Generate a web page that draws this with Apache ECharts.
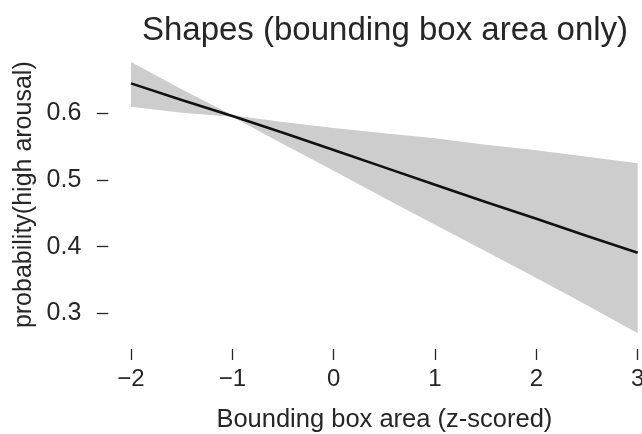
<!DOCTYPE html>
<html>
<head>
<meta charset="utf-8">
<script src="https://cdn.jsdelivr.net/npm/echarts@6/dist/echarts.min.js"></script>
<style>html,body{margin:0;padding:0;background:#fff;}#c{width:642px;height:434px;}</style>
</head>
<body>
<div id="c"></div>
<script>
var titleText = 'Shapes (bounding box area only)';
var xName = 'Bounding box area (z-scored)';
var yName = 'probability(high arousal)';
var zVals = [-2, -1.5, -1, -0.5, 0, 0.5, 1, 1.5, 2, 2.5, 3];
var fitVals = [0.645, 0.620, 0.596, 0.571, 0.545, 0.519, 0.493, 0.467, 0.442, 0.416, 0.391];
var upperVals = [0.677, 0.636, 0.597, 0.587, 0.578, 0.570, 0.5625, 0.553, 0.5445, 0.535, 0.525];
var lowerVals = [0.610, 0.601, 0.595, 0.554, 0.514, 0.473, 0.433, 0.393, 0.353, 0.312, 0.270];
var xTicks = [-2, -1, 0, 1, 2, 3];
var yTickMin = 0.3, yTickMax = 0.7, yTickStep = 0.1;

var FONT = '"Liberation Sans", Arial, sans-serif';
var TXT = '#262626';

var fitData = zVals.map(function (z, i) { return [z, fitVals[i]]; });
var bandData = zVals.map(function (z, i) { return [z, lowerVals[i], upperVals[i]]; });

var chart = echarts.init(document.getElementById('c'), null, {renderer: 'canvas'});
chart.setOption({
  animation: false,
  backgroundColor: '#ffffff',
  title: {
    text: titleText,
    left: 385,
    top: 14,
    padding: 0,
    textAlign: 'center',
    textStyle: {fontFamily: FONT, fontSize: 33, fontWeight: 'normal', color: TXT}
  },
  grid: [
    {left: 131, right: 4.3, top: 46.7, bottom: 87.3, containLabel: false, outerBoundsMode: 'none'},
    {left: 131, right: 4.3, top: 46.7, bottom: 120.7, containLabel: false, outerBoundsMode: 'none'}
  ],
  xAxis: [
    {
      type: 'value', gridIndex: 0,
      min: -2, max: 3, interval: 1,
      offset: 2.3,
      name: xName,
      nameLocation: 'middle',
      nameGap: 58,
      nameTextStyle: {fontFamily: FONT, fontSize: 25.5, color: TXT, verticalAlign: 'top'},
      axisLine: {show: false, onZero: false},
      axisTick: {show: true, length: 11, lineStyle: {color: TXT, width: 1.3}},
      axisLabel: {
        fontFamily: FONT, fontSize: 24, color: TXT, margin: 18,
        formatter: function (v) { return v < 0 ? '\u2212' + Math.abs(v) : String(v); }
      },
      splitLine: {show: false}
    },
    {
      type: 'value', gridIndex: 1, min: -2, max: 3, show: false
    }
  ],
  yAxis: [
    {
      type: 'value', gridIndex: 0,
      min: 0.25, max: 0.7,
      offset: 22.7,
      name: yName,
      nameLocation: 'middle',
      nameGap: 72,
      nameRotate: 90,
      nameTextStyle: {fontFamily: FONT, fontSize: 25, color: TXT, padding: [0, 0, 0, 4]},
      axisLine: {show: false, onZero: false},
      axisTick: {show: false},
      axisLabel: {show: false},
      splitLine: {show: false}
    },
    {
      type: 'value', gridIndex: 1,
      min: yTickMin, max: yTickMax, interval: yTickStep,
      offset: 22.7,
      axisLine: {show: false, onZero: false},
      axisTick: {show: true, length: 11.5, lineStyle: {color: TXT, width: 1.3}},
      axisLabel: {
        fontFamily: FONT, fontSize: 25, color: TXT, margin: 27,
        showMaxLabel: false,
        formatter: function (v) { return Math.abs(v - yTickMax) < 1e-9 ? '' : v.toFixed(1); }
      },
      splitLine: {show: false}
    }
  ],
  series: [
    {
      type: 'custom',
      xAxisIndex: 0, yAxisIndex: 0,
      data: bandData,
      clip: false,
      renderItem: function (params, api) {
        if (params.dataIndex !== 0) return null;
        var up = [], lo = [];
        for (var i = 0; i < bandData.length; i++) {
          up.push(api.coord([bandData[i][0], bandData[i][2]]));
          lo.push(api.coord([bandData[i][0], bandData[i][1]]));
        }
        var pts = up.concat(lo.reverse());
        return {
          type: 'polygon',
          shape: {points: pts},
          style: {fill: '#cdcdcd', stroke: null}
        };
      },
      z: 1
    },
    {
      type: 'line',
      xAxisIndex: 0, yAxisIndex: 0,
      data: fitData,
      symbol: 'none',
      smooth: false,
      lineStyle: {color: '#111111', width: 2.6},
      z: 2
    }
  ]
});
</script>
</body>
</html>
